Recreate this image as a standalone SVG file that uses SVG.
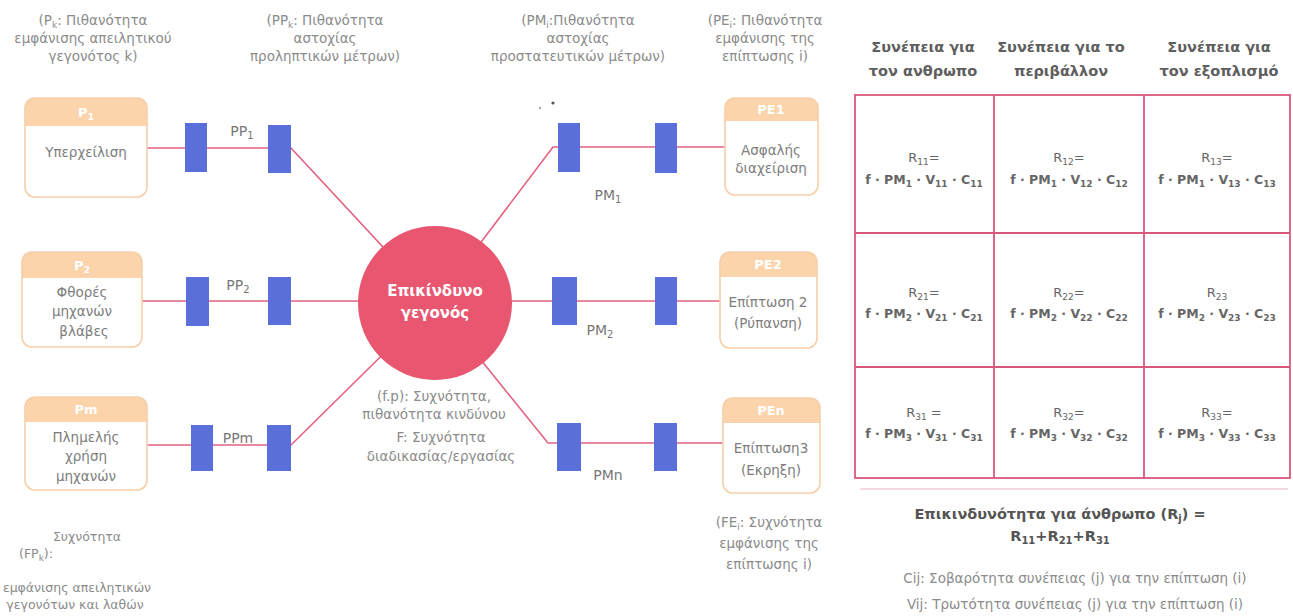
<svg xmlns="http://www.w3.org/2000/svg" width="1293" height="616" viewBox="0 0 1293 616">
  <style>
    text { font-family: "DejaVu Sans", "Liberation Sans", sans-serif; }
    .ann { font-size: 13.5px; fill: #8b8b8b; text-anchor: middle; }
    .anns { font-size: 12.5px; fill: #8b8b8b; text-anchor: middle; }
    .bt { font-size: 13.5px; fill: #7d7d7d; text-anchor: middle; }
    .ht { font-size: 13px; font-weight: bold; fill: #ffffff; text-anchor: middle; }
    .lab { font-size: 14px; fill: #777777; text-anchor: middle; }
    .ctr { font-size: 15px; font-weight: bold; fill: #ffffff; text-anchor: middle; }
    .th { font-size: 14.5px; font-weight: bold; fill: #5e5e5e; text-anchor: middle; }
    .cr { font-size: 13px; fill: #666666; text-anchor: middle; }
    .cf { font-size: 12.5px; font-weight: bold; fill: #666666; text-anchor: middle; }
    .tot { font-size: 14.5px; font-weight: bold; fill: #555555; text-anchor: middle; }
    .note { font-size: 13.5px; fill: #8b8b8b; text-anchor: middle; }
    .boxbg { fill: #ffffff; }
    .boxln { fill: none; stroke: #f6cfa9; stroke-width: 1.6; }
    .hdr { fill: #fbd4ab; }
    .blk { fill: #5b6fda; }
    .con { fill: none; stroke: #e2627f; stroke-width: 1.6; }
    .grid { fill: none; stroke: #d9577c; stroke-width: 1.8; }
  </style>

  <!-- annotations above the chain -->
  <g id="labels-top">
    <text class="ann" x="93" y="25">(P<tspan font-size="9" baseline-shift="-3">k</tspan>: Πιθανότητα</text>
    <text class="ann" x="93" y="43">εμφάνισης απειλητικού</text>
    <text class="ann" x="93" y="61">γεγονότος k)</text>

    <text class="ann" x="325" y="25">(PP<tspan font-size="9" baseline-shift="-3">k</tspan>: Πιθανότητα</text>
    <text class="ann" x="325" y="43">αστοχίας</text>
    <text class="ann" x="325" y="61">προληπτικών μέτρων)</text>

    <text class="ann" x="578" y="25">(PM<tspan font-size="9" baseline-shift="-3">i</tspan>:Πιθανότητα</text>
    <text class="ann" x="578" y="43">αστοχίας</text>
    <text class="ann" x="578" y="61">προστατευτικών μέτρων)</text>

    <text class="ann" x="765" y="25">(PE<tspan font-size="9" baseline-shift="-3">i</tspan>: Πιθανότητα</text>
    <text class="ann" x="765" y="43">εμφάνισης της</text>
    <text class="ann" x="765" y="61">επίπτωσης i)</text>

    <circle cx="540" cy="108" r="1.2" fill="#aaaaaa"/>
    <circle cx="553" cy="103" r="1.6" fill="#555555"/>
  </g>

  <!-- connectors -->
  <g id="connectors">
    <path class="con" d="M147,148 H291 L435,303"/>
    <path class="con" d="M142,301 H720"/>
    <path class="con" d="M147,445 H291 L435,303"/>
    <path class="con" d="M435,303 L553,147 H725"/>
    <path class="con" d="M435,303 L548,443 H723"/>
  </g>

  <!-- barrier blocks -->
  <g id="barriers">
    <rect class="blk" x="185" y="123" width="22" height="49"/>
    <rect class="blk" x="268" y="125" width="23" height="48"/>
    <rect class="blk" x="186" y="277" width="23" height="49"/>
    <rect class="blk" x="268" y="277" width="23" height="48"/>
    <rect class="blk" x="191" y="425" width="22" height="46"/>
    <rect class="blk" x="267" y="425" width="24" height="46"/>
    <rect class="blk" x="558" y="123" width="22" height="49"/>
    <rect class="blk" x="655" y="123" width="22" height="50"/>
    <rect class="blk" x="552" y="277" width="25" height="48"/>
    <rect class="blk" x="655" y="277" width="22" height="48"/>
    <rect class="blk" x="557" y="423" width="24" height="48"/>
    <rect class="blk" x="654" y="423" width="23" height="48"/>
  </g>

  <g id="barrier-labels">
    <text class="lab" x="242" y="136">PP<tspan font-size="10" baseline-shift="-3">1</tspan></text>
    <text class="lab" x="238" y="290">PP<tspan font-size="10" baseline-shift="-3">2</tspan></text>
    <text class="lab" x="238" y="443">PPm</text>
    <text class="lab" x="608" y="200">PM<tspan font-size="10" baseline-shift="-3">1</tspan></text>
    <text class="lab" x="600" y="335">PM<tspan font-size="10" baseline-shift="-3">2</tspan></text>
    <text class="lab" x="608" y="480">PMn</text>
  </g>

  <!-- initiating events -->
  <g id="node-p1">
    <rect class="boxbg" x="25" y="98" width="122" height="99" rx="10"/>
    <path class="hdr" d="M25,126 V108 A10,10 0 0 1 35,98 H137 A10,10 0 0 1 147,108 V126 Z"/>
    <rect class="boxln" x="25" y="98" width="122" height="99" rx="10"/>
    <text class="ht" x="86" y="117">P<tspan font-size="9" baseline-shift="-3">1</tspan></text>
    <text class="bt" x="86" y="157">Υπερχείλιση</text>
  </g>
  <g id="node-p2">
    <rect class="boxbg" x="22" y="252" width="120" height="95" rx="10"/>
    <path class="hdr" d="M22,278 V262 A10,10 0 0 1 32,252 H132 A10,10 0 0 1 142,262 V278 Z"/>
    <rect class="boxln" x="22" y="252" width="120" height="95" rx="10"/>
    <text class="ht" x="82" y="270">P<tspan font-size="9" baseline-shift="-3">2</tspan></text>
    <text class="bt" x="82" y="297">Φθορές</text>
    <text class="bt" x="82" y="316">μηχανών</text>
    <text class="bt" x="84" y="336">βλάβες</text>
  </g>
  <g id="node-pm">
    <rect class="boxbg" x="25" y="397" width="122" height="93" rx="10"/>
    <path class="hdr" d="M25,422 V407 A10,10 0 0 1 35,397 H137 A10,10 0 0 1 147,407 V422 Z"/>
    <rect class="boxln" x="25" y="397" width="122" height="93" rx="10"/>
    <text class="ht" x="86" y="414">Pm</text>
    <text class="bt" x="86" y="442">Πλημελής</text>
    <text class="bt" x="86" y="461">χρήση</text>
    <text class="bt" x="86" y="481">μηχανών</text>
  </g>

  <!-- central hazardous event -->
  <g id="node-event">
    <circle cx="435" cy="303" r="77" fill="#e8566f"/>
    <text class="ctr" x="435" y="296">Επικίνδυνο</text>
    <text class="ctr" x="435" y="318">γεγονός</text>
  </g>

  <!-- consequences -->
  <g id="node-pe1">
    <rect class="boxbg" x="725" y="98" width="93" height="97" rx="10"/>
    <path class="hdr" d="M725,121 V108 A10,10 0 0 1 735,98 H808 A10,10 0 0 1 818,108 V121 Z"/>
    <rect class="boxln" x="725" y="98" width="93" height="97" rx="10"/>
    <text class="ht" x="771" y="114">PE1</text>
    <text class="bt" x="771" y="155">Ασφαλής</text>
    <text class="bt" x="771" y="173">διαχείριση</text>
  </g>
  <g id="node-pe2">
    <rect class="boxbg" x="720" y="252" width="97" height="96" rx="10"/>
    <path class="hdr" d="M720,277 V262 A10,10 0 0 1 730,252 H807 A10,10 0 0 1 817,262 V277 Z"/>
    <rect class="boxln" x="720" y="252" width="97" height="96" rx="10"/>
    <text class="ht" x="768" y="269">PE2</text>
    <text class="bt" x="768" y="307">Επίπτωση 2</text>
    <text class="bt" x="768" y="328">(Ρύπανση)</text>
  </g>
  <g id="node-pen">
    <rect class="boxbg" x="723" y="398" width="97" height="95" rx="10"/>
    <path class="hdr" d="M723,423 V408 A10,10 0 0 1 733,398 H810 A10,10 0 0 1 820,408 V423 Z"/>
    <rect class="boxln" x="723" y="398" width="97" height="95" rx="10"/>
    <text class="ht" x="771" y="415">PEn</text>
    <text class="bt" x="771" y="453">Επίπτωση3</text>
    <text class="bt" x="771" y="475">(Εκρηξη)</text>
  </g>

  <!-- annotations below the chain -->
  <g id="labels-bottom">
    <text class="ann" x="434" y="401">(f.p): Συχνότητα,</text>
    <text class="ann" x="434" y="419">πιθανότητα κινδύνου</text>
    <text class="ann" x="441" y="442">F:  Συχνότητα</text>
    <text class="ann" x="441" y="461">διαδικασίας/εργασίας</text>

    <text class="ann" x="769" y="527">(FE<tspan font-size="9" baseline-shift="-3">i</tspan>: Συχνότητα</text>
    <text class="ann" x="769" y="548">εμφάνισης της</text>
    <text class="ann" x="769" y="569">επίπτωσης i)</text>

    <text class="anns" x="87" y="541">Συχνότητα</text>
    <text class="anns" x="36" y="558">(FP<tspan font-size="9" baseline-shift="-3">k</tspan>):</text>
    <text class="anns" x="77" y="592">εμφάνισης απειλητικών</text>
    <text class="anns" x="75" y="609">γεγονότων και λαθών</text>
  </g>

  <!-- risk matrix -->
  <g id="risk-table">
    <text class="th" x="923" y="52">Συνέπεια για</text>
    <text class="th" x="923" y="76">τον ανθρωπο</text>
    <text class="th" x="1061" y="52">Συνέπεια για το</text>
    <text class="th" x="1061" y="76">περιβάλλον</text>
    <text class="th" x="1219" y="52">Συνέπεια για</text>
    <text class="th" x="1219" y="76">τον εξοπλισμό</text>

    <rect class="grid" x="855" y="95" width="435" height="383"/>
    <path class="grid" d="M994,95 V478 M1144,95 V478 M855,233 H1290 M855,367 H1290"/>
    <path d="M860,489 H1288" stroke="#f7dbe3" stroke-width="2"/>

    <text class="cr" x="924" y="162">R<tspan font-size="9" baseline-shift="-3">11</tspan>=</text>
    <text class="cf" x="924" y="184">f · PM<tspan font-size="9" baseline-shift="-3">1</tspan> · V<tspan font-size="9" baseline-shift="-3">11</tspan> · C<tspan font-size="9" baseline-shift="-3">11</tspan></text>
    <text class="cr" x="1069" y="162">R<tspan font-size="9" baseline-shift="-3">12</tspan>=</text>
    <text class="cf" x="1069" y="184">f · PM<tspan font-size="9" baseline-shift="-3">1</tspan> · V<tspan font-size="9" baseline-shift="-3">12</tspan> · C<tspan font-size="9" baseline-shift="-3">12</tspan></text>
    <text class="cr" x="1217" y="162">R<tspan font-size="9" baseline-shift="-3">13</tspan>=</text>
    <text class="cf" x="1217" y="184">f · PM<tspan font-size="9" baseline-shift="-3">1</tspan> · V<tspan font-size="9" baseline-shift="-3">13</tspan> · C<tspan font-size="9" baseline-shift="-3">13</tspan></text>

    <text class="cr" x="924" y="297">R<tspan font-size="9" baseline-shift="-3">21</tspan>=</text>
    <text class="cf" x="924" y="318">f · PM<tspan font-size="9" baseline-shift="-3">2</tspan> · V<tspan font-size="9" baseline-shift="-3">21</tspan> · C<tspan font-size="9" baseline-shift="-3">21</tspan></text>
    <text class="cr" x="1069" y="297">R<tspan font-size="9" baseline-shift="-3">22</tspan>=</text>
    <text class="cf" x="1069" y="318">f · PM<tspan font-size="9" baseline-shift="-3">2</tspan> · V<tspan font-size="9" baseline-shift="-3">22</tspan> · C<tspan font-size="9" baseline-shift="-3">22</tspan></text>
    <text class="cr" x="1217" y="297">R<tspan font-size="9" baseline-shift="-3">23</tspan></text>
    <text class="cf" x="1217" y="318">f · PM<tspan font-size="9" baseline-shift="-3">2</tspan> · V<tspan font-size="9" baseline-shift="-3">23</tspan> · C<tspan font-size="9" baseline-shift="-3">23</tspan></text>

    <text class="cr" x="924" y="417">R<tspan font-size="9" baseline-shift="-3">31</tspan> =</text>
    <text class="cf" x="924" y="438">f · PM<tspan font-size="9" baseline-shift="-3">3</tspan> · V<tspan font-size="9" baseline-shift="-3">31</tspan> · C<tspan font-size="9" baseline-shift="-3">31</tspan></text>
    <text class="cr" x="1069" y="417">R<tspan font-size="9" baseline-shift="-3">32</tspan>=</text>
    <text class="cf" x="1069" y="438">f · PM<tspan font-size="9" baseline-shift="-3">3</tspan> · V<tspan font-size="9" baseline-shift="-3">32</tspan> · C<tspan font-size="9" baseline-shift="-3">32</tspan></text>
    <text class="cr" x="1217" y="417">R<tspan font-size="9" baseline-shift="-3">33</tspan>=</text>
    <text class="cf" x="1217" y="438">f · PM<tspan font-size="9" baseline-shift="-3">3</tspan> · V<tspan font-size="9" baseline-shift="-3">33</tspan> · C<tspan font-size="9" baseline-shift="-3">33</tspan></text>

    <text class="tot" x="1060" y="519">Επικινδυνότητα για άνθρωπο (R<tspan font-size="10" baseline-shift="-3">j</tspan>) =</text>
    <text class="tot" x="1060" y="541">R<tspan font-size="10" baseline-shift="-3">11</tspan>+R<tspan font-size="10" baseline-shift="-3">21</tspan>+R<tspan font-size="10" baseline-shift="-3">31</tspan></text>
    <text class="note" x="1075" y="583">Cij: Σοβαρότητα συνέπειας (j) για την επίπτωση (i)</text>
    <text class="note" x="1075" y="609">Vij: Τρωτότητα συνέπειας (j) για την επίπτωση (i)</text>
  </g>
</svg>
